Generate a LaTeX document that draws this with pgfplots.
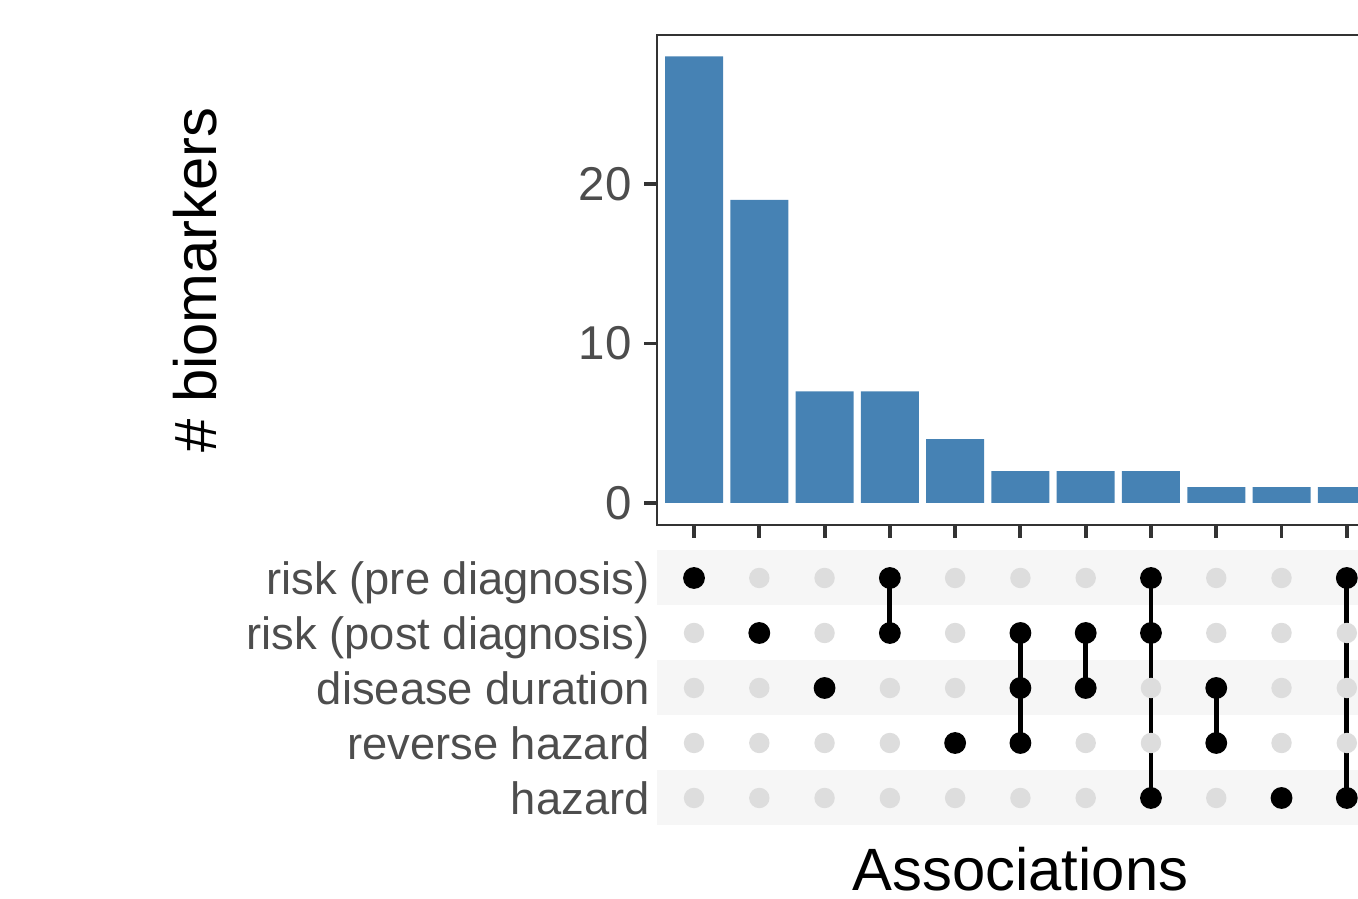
\documentclass[border=0pt]{standalone}
\usepackage{pgfplots}
\pgfplotsset{compat=1.18}
\usepackage{fontspec}
\setmainfont{Liberation Sans}
\definecolor{steelblue}{HTML}{4682B4}
\definecolor{tickgray}{HTML}{4D4D4D}
\definecolor{band}{HTML}{F6F6F6}
\definecolor{dotgray}{HTML}{DDDDDD}
\definecolor{frame}{HTML}{333333}

\begin{document}
\begin{tikzpicture}
\useasboundingbox (0,0) rectangle (13.58,8.99);
\clip (0,0) rectangle (13.58,8.99);
% bar panel
\begin{axis}[
  at={(6.57cm,3.74cm)}, anchor=south west,
  scale only axis, width=7.27cm, height=4.90cm,
  xmin=-0.567, xmax=10.57, ymin=-1.38, ymax=29.34,
  ybar, bar width=0.58cm,
  xtick={0,...,10}, xticklabel=\empty,
  ytick={0,10,20},
  xtick pos=bottom, ytick pos=left,
  tick align=outside, major tick length=0.13cm,
  tick style={line width=1.1pt, color=frame},
  axis line style={line width=0.7pt, color=frame},
  /pgf/number format/assume math mode=true,
  yticklabel style={font=\fontsize{13.5}{15}\selectfont, color=tickgray},
  ylabel={\# biomarkers},
  ylabel style={at={(axis description cs:-0.635,0.5)}, anchor=center, font=\fontsize{17}{20}\selectfont},
]
\addplot[fill=steelblue, draw=none] coordinates {
  (0,28) (1,19) (2,7) (3,7) (4,4) (5,2) (6,2) (7,2) (8,1) (9,1) (10,1)
};
\end{axis}
% matrix panel
\begin{axis}[
  at={(6.57cm,0.735cm)}, anchor=south west,
  scale only axis, width=7.27cm, height=2.75cm,
  xmin=-0.567, xmax=10.57, ymin=0.5, ymax=5.5, y dir=reverse,
  axis line style={draw=none}, major tick length=0pt,
  xtick=\empty, ytick={1,2,3,4,5},
  yticklabels={risk (pre diagnosis), risk (post diagnosis), disease duration, reverse hazard, hazard},
  yticklabel style={font=\fontsize{12.9}{15}\selectfont, color=tickgray,
    text height=9.3pt, text depth=0pt, xshift=0.05cm},
  xlabel={Associations},
  xlabel style={at={(axis description cs:0.5,-0.16)}, anchor=center, inner sep=0pt,
    font=\fontsize{17}{20}\selectfont},
]
\fill[band] (axis cs:-1,0.5) rectangle (axis cs:12,1.5);
\fill[band] (axis cs:-1,2.5) rectangle (axis cs:12,3.5);
\fill[band] (axis cs:-1,4.5) rectangle (axis cs:12,5.5);
\addplot[only marks, mark=*, mark size=2.7pt, color=dotgray] coordinates {
  (0,1) (0,2) (0,3) (0,4) (0,5)
  (1,1) (1,2) (1,3) (1,4) (1,5)
  (2,1) (2,2) (2,3) (2,4) (2,5)
  (3,1) (3,2) (3,3) (3,4) (3,5)
  (4,1) (4,2) (4,3) (4,4) (4,5)
  (5,1) (5,2) (5,3) (5,4) (5,5)
  (6,1) (6,2) (6,3) (6,4) (6,5)
  (7,1) (7,2) (7,3) (7,4) (7,5)
  (8,1) (8,2) (8,3) (8,4) (8,5)
  (9,1) (9,2) (9,3) (9,4) (9,5)
  (10,1) (10,2) (10,3) (10,4) (10,5)
};
\addplot[black, line width=1.4pt] coordinates {(3,1) (3,2)};
\addplot[black, line width=1.4pt] coordinates {(5,2) (5,4)};
\addplot[black, line width=1.4pt] coordinates {(6,2) (6,3)};
\addplot[black, line width=1.4pt] coordinates {(7,1) (7,5)};
\addplot[black, line width=1.4pt] coordinates {(8,3) (8,4)};
\addplot[black, line width=1.4pt] coordinates {(10,1) (10,5)};
\addplot[only marks, mark=*, mark size=2.9pt, color=black] coordinates {
  (0,1) (1,2) (2,3) (3,1) (3,2) (4,4) (5,2) (5,3) (5,4) (6,2) (6,3)
  (7,1) (7,2) (7,5) (8,3) (8,4) (9,5) (10,1) (10,5)
};
\end{axis}
\end{tikzpicture}
\end{document}
